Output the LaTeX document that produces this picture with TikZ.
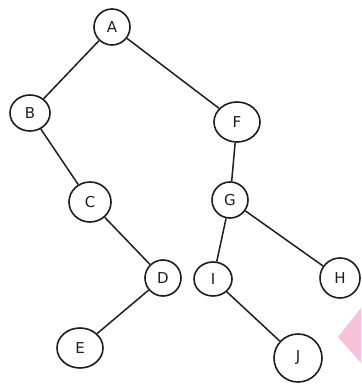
\documentclass[tikz,border=0pt]{standalone}
\usepackage{fontspec}
\setmainfont{DejaVu Sans}
\usetikzlibrary{shapes.geometric}
\definecolor{pinkish}{RGB}{249,192,218}
\definecolor{ink}{RGB}{30,30,30}
\begin{document}
\begin{tikzpicture}[x=1pt,y=-1pt,
  tn/.style={draw=ink, line width=1.6pt, ellipse, inner sep=0pt, minimum width=36pt, minimum height=36pt, font=\fontsize{15}{15}\selectfont, text=ink},
  edge/.style={draw=ink, line width=1.5pt}]
\useasboundingbox (0,0) rectangle (361,390);
\fill[white] (0,0) rectangle (361,390);
\fill[pinkish] (338,337) -- (361,308) -- (361,363) -- cycle;
\node[tn] (A) at (112,27) {A};
\node[tn, minimum width=40pt] (B) at (30,113) {B};
\node[tn, minimum width=46pt, minimum height=40pt] (F) at (237,122) {F};
\node[tn, minimum width=42pt, minimum height=40pt] (C) at (90,202) {C};
\node[tn] (G) at (230,200) {G};
\node[tn] (D) at (163,278) {D};
\node[tn, minimum width=38pt, minimum height=34pt] (I) at (213,279) {I};
\node[tn, minimum width=40pt, minimum height=40pt] (H) at (340,278) {H};
\node[tn, minimum width=46pt, minimum height=40pt] (E) at (80,348) {E};
\node[tn, minimum width=48pt, minimum height=48pt] (J) at (298,358) {J};
\draw[edge] (A) -- (B);
\draw[edge] (A) -- (F);
\draw[edge] (B) -- (C);
\draw[edge] (C) -- (D);
\draw[edge] (D) -- (E);
\draw[edge] (F) -- (G);
\draw[edge] (G) -- (I);
\draw[edge] (G) -- (H);
\draw[edge] (I) -- (J);
\end{tikzpicture}
\end{document}
